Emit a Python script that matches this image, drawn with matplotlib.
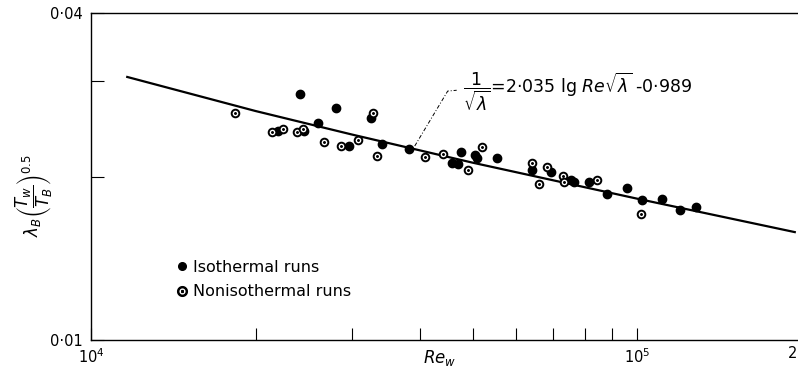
import matplotlib
matplotlib.use("Agg")
import matplotlib.pyplot as plt
from matplotlib.ticker import FixedLocator, FixedFormatter, NullLocator
from matplotlib.lines import Line2D

plt.rcParams["font.family"] = ["DejaVu Sans"]
plt.rcParams["mathtext.fontset"] = "dejavusans"

# --------- data ------------------------------
# isothermal runs (filled dots)
iso_re = [24100, 28050, 32600, 21970, 24500, 26000, 29630, 34040, 38140,
          47480, 45710, 46880, 50350, 50780, 55360, 64020, 69340, 75420,
          76380, 81350, 87770, 95480, 102100, 111100, 119400, 128200]
iso_lam = [0.02838, 0.0267, 0.02563, 0.02425, 0.02430, 0.02509, 0.02276,
           0.02295, 0.02247, 0.02218, 0.02118, 0.02109, 0.0219, 0.02163,
           0.02163, 0.02056, 0.02038, 0.0197, 0.01954, 0.01954, 0.01857,
           0.01904, 0.0181, 0.01818, 0.01735, 0.01757]

# nonisothermal runs (dotted circles)
noniso_re = [18340, 21420, 22440, 23800, 24410, 26670, 28640, 30770, 32780,
             33410, 40790, 44020, 48890, 51850, 64020, 65920, 68180, 72930,
             73230, 84140, 101300]
noniso_lam = [0.02618, 0.02415, 0.02446, 0.02415, 0.02446, 0.02314, 0.02276,
              0.02334, 0.02618, 0.02181, 0.02172, 0.0220, 0.02056, 0.02266,
              0.02118, 0.01937, 0.02082, 0.02004, 0.01954, 0.0197, 0.01705]

# correlation curve 1/sqrt(lam) = 2.035 lg(Re sqrt(lam)) - 0.989
fit_re = [11650, 20000, 30000, 50000, 100000, 194000]
fit_lam = [0.0305, 0.0264, 0.0239, 0.0212, 0.0182, 0.0158]

# leader line from the equation to the curve
lead_re = [39120, 44950, 46680]
lead_lam = [0.02276, 0.02873, 0.02883]

x_ticks = [1e4, 2e4, 3e4, 4e4, 5e4, 6e4, 7e4, 8e4, 9e4, 1e5, 2e5]
x_labels = [r"$10^4$", "", "", "", "", "", "", "", "", r"$10^5$", ""]
y_ticks = [0.01, 0.02, 0.03, 0.04]
y_labels = ["0·01", "", "", "0·04"]

W, H = 798, 377
fig = plt.figure(figsize=(W / 100, H / 100), dpi=100)
ax = fig.add_axes([91 / W, 37 / H, (802 - 91) / W, 327 / H])

ax.set_xscale("log")
ax.set_yscale("log")
ax.set_xlim(1e4, 2e5)
ax.set_ylim(0.01, 0.04)

ax.plot(fit_re, fit_lam, color="black", lw=1.6, zorder=2)
ax.plot(lead_re, lead_lam, color="black", lw=0.7, ls=(0, (4, 2, 1, 2)), zorder=2)

ax.plot(iso_re, iso_lam, "o", ms=6, color="black", mec="black", zorder=3)
ax.plot(noniso_re, noniso_lam, "o", ms=5.5, mfc="white", mec="black",
        mew=1.4, zorder=4)
ax.plot(noniso_re, noniso_lam, ".", ms=2.2, color="black", zorder=5)

ax.text(48000, 0.0287, r"$\dfrac{1}{\sqrt{\lambda}}$" + "=2·035 lg " +
        r"$Re\sqrt{\lambda}$" + " -0·989", fontsize=12.5, va="center",
        ha="left")

# legend
h_iso = Line2D([], [], ls="none", marker="o", ms=5.5, color="black")
h_non = Line2D([], [], ls="none", marker=r"$\odot$", ms=7, color="black")
ax.legend([h_iso, h_non], ["Isothermal runs", "Nonisothermal runs"],
          loc="upper left", bbox_to_anchor=(0.105, 0.28), frameon=False,
          fontsize=11.5, handlelength=0.6, handletextpad=0.4,
          labelspacing=0.6, borderpad=0.2)

ax.xaxis.set_major_locator(FixedLocator(x_ticks))
ax.xaxis.set_major_formatter(FixedFormatter(x_labels))
ax.xaxis.set_minor_locator(NullLocator())
ax.yaxis.set_major_locator(FixedLocator(y_ticks))
ax.yaxis.set_major_formatter(FixedFormatter(y_labels))
ax.yaxis.set_minor_locator(NullLocator())
ax.tick_params(direction="in", length=9, width=0.8, labelsize=10.5, pad=6)
ax.tick_params(axis="x", pad=5)

# the "2" (2 x 10^5) label sits right at the edge of the figure
fig.text(0.999, 1 - 354 / H, "2", fontsize=10.5, ha="right", va="center")

ax.spines["right"].set_visible(False)
for s in ["left", "top", "bottom"]:
    ax.spines[s].set_linewidth(1.0)

ax.set_xlabel(r"$Re_w$", fontsize=12)
ax.xaxis.set_label_coords(0.49, -0.025)
ax.set_ylabel(r"$\lambda_B\left(\dfrac{T_w}{T_B}\right)^{0.5}$", fontsize=12)
ax.yaxis.set_label_coords(-0.05, 0.44)

fig.savefig("out.png", dpi=100)
